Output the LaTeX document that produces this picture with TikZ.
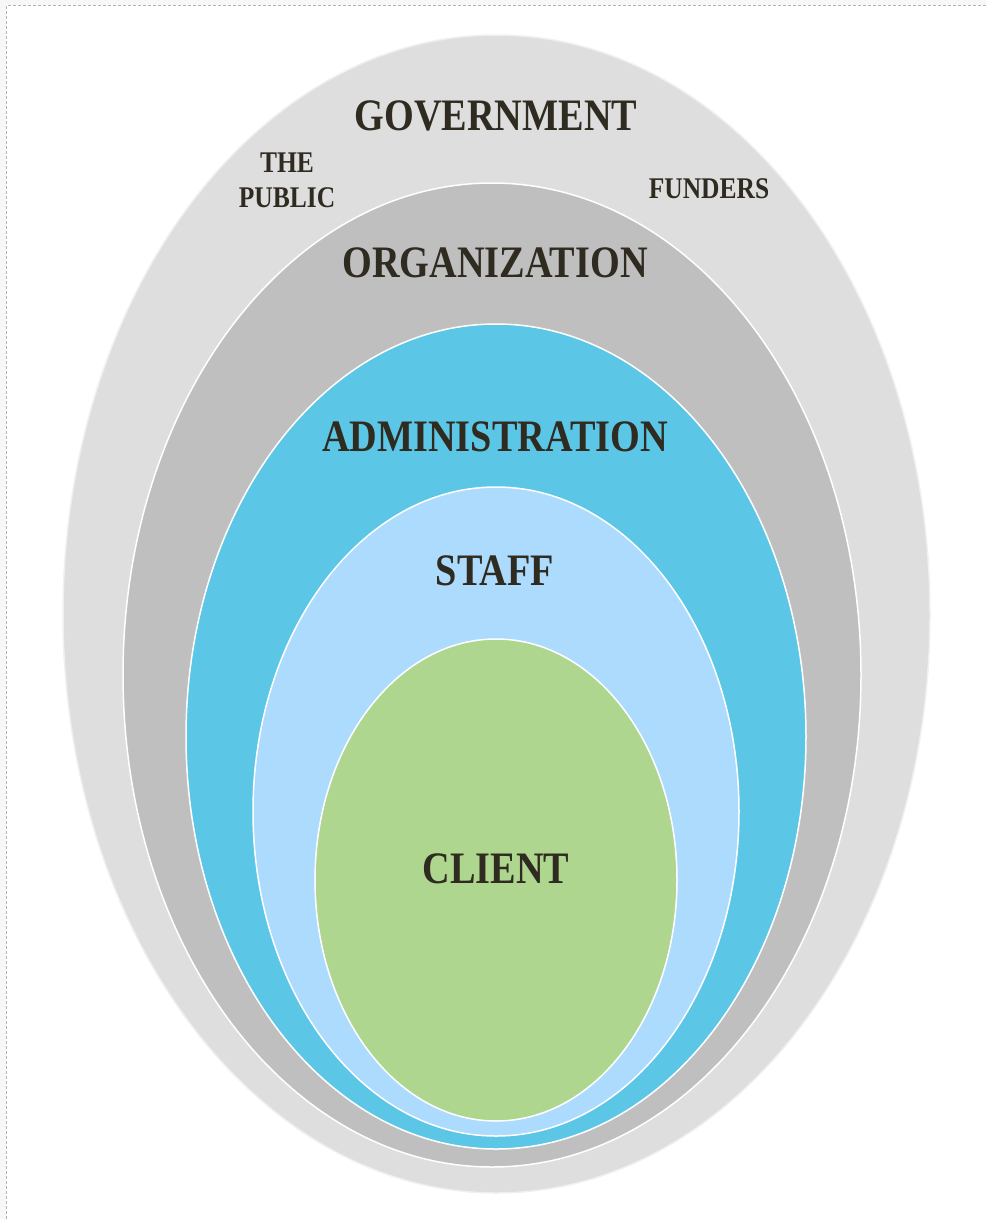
\documentclass[tikz,border=0pt]{standalone}
\usepackage{fontspec}
\setmainfont{Liberation Serif}[FakeStretch=0.85]
\usetikzlibrary{shapes.geometric}
\definecolor{govgray}{HTML}{DEDEDE}
\definecolor{orggray}{HTML}{BFBFBF}
\definecolor{adminblue}{HTML}{5BC6E5}
\definecolor{staffblue}{HTML}{ACDBFE}
\definecolor{clientgreen}{HTML}{AED68F}
\definecolor{labeltext}{HTML}{2F2B20}
\begin{document}
\begin{tikzpicture}[
  x=1pt, y=-1pt,
  ring/.style={ellipse, draw=white, line width=1.5pt, inner sep=0pt},
  big/.style={text=labeltext, font=\fontsize{45}{54}\selectfont\bfseries},
  small/.style={text=labeltext, font=\fontsize{30}{35}\selectfont\bfseries, align=center}
]
\useasboundingbox (0,0) rectangle (986,1219);
\fill[gray!6] (0,0) rectangle (986,5);
\fill[gray!6] (0,0) rectangle (6,1219);
\draw[gray!60, densely dashed, line width=0.6pt] (986,5.5) -- (6.5,5.5) -- (6.5,1219);
% rings, outside in
\node[ring, fill=govgray, draw=gray!12, minimum width=867pt, minimum height=1158pt] (gov) at (496.5,614) {};
\node[ring, fill=orggray, minimum width=738pt, minimum height=984pt] (org) at (492,675) {};
\node[ring, fill=adminblue, minimum width=620pt, minimum height=825pt] (admin) at (496,736.5) {};
\node[ring, fill=staffblue, minimum width=486pt, minimum height=649pt] (staff) at (496,811.5) {};
\node[ring, fill=clientgreen, minimum width=362pt, minimum height=482pt] (client) at (496,880) {};
% labels
\node[big] (govlabel) at (496,116) {GOVERNMENT};
\node[small] (public) at (287,180) {THE\\PUBLIC};
\node[small] (funders) at (709,189) {FUNDERS};
\node[big] (orglabel) at (495,263) {ORGANIZATION};
\node[big] (adminlabel) at (495,437) {ADMINISTRATION};
\node[big] (stafflabel) at (495,571) {STAFF};
\node[big] (clientlabel) at (496,869) {CLIENT};
\end{tikzpicture}
\end{document}
